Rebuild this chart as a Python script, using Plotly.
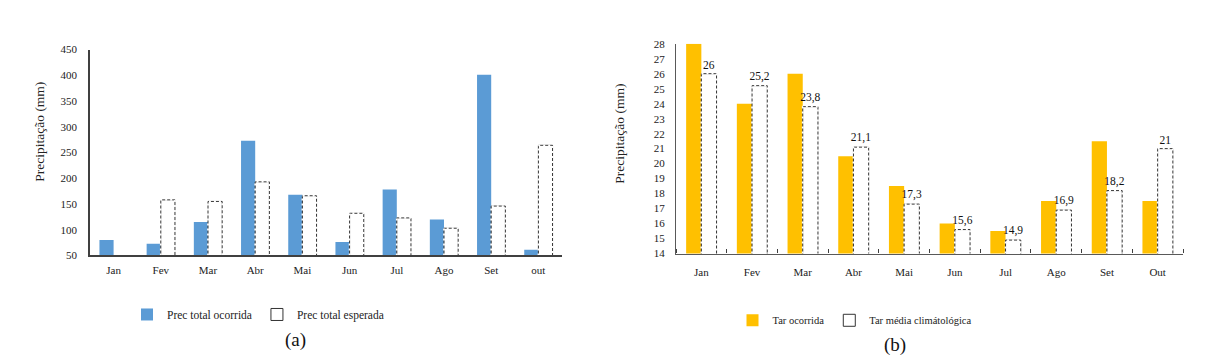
import plotly.graph_objects as go

# ---------------- data ----------------
meses_a = ["Jan", "Fev", "Mar", "Abr", "Mai", "Jun", "Jul", "Ago", "Set", "out"]
prec_ocorrida = [80, 73, 115, 273, 168, 76, 178, 120, 401, 61]
prec_esperada = [None, 158, 155, 193, 166, 132, 123, 103, 146, 264]
ticks_a = [50, 100, 150, 200, 250, 300, 350, 400, 450]

meses_b = ["Jan", "Fev", "Mar", "Abr", "Mai", "Jun", "Jul", "Ago", "Set", "Out"]
tar_ocorrida = [28, 24, 26, 20.5, 18.5, 16, 15.5, 17.5, 21.5, 17.5]
tar_media = [26, 25.2, 23.8, 21.1, 17.3, 15.6, 14.9, 16.9, 18.2, 21]
ticks_b = list(range(14, 29))

FONT = "Liberation Serif, Times New Roman, serif"
BLUE = "#5B9BD5"
ORANGE = "#FFC000"
DARK = "#333333"
W = 0.30


def outline(values, base):
    xs, ys = [], []
    for i, v in enumerate(values):
        if v is None:
            continue
        xs += [i, i, i + W, i + W, None]
        ys += [base, v, v, base, None]
    return xs, ys


fig = go.Figure()

# ----- chart (a) -----
idx_a = list(range(len(meses_a)))
fig.add_trace(go.Bar(x=idx_a, y=prec_ocorrida, offset=-W, width=W,
                     marker=dict(color=BLUE, line=dict(width=0)),
                     name="Prec total ocorrida", xaxis="x", yaxis="y",
                     legend="legend"))
fig.add_trace(go.Bar(x=idx_a, y=prec_esperada, offset=0, width=W,
                     marker=dict(color="white", line=dict(color=DARK, width=1)),
                     name="Prec total esperada", xaxis="x", yaxis="y",
                     legend="legend"))
xs, ys = outline(prec_esperada, ticks_a[0])
fig.add_trace(go.Scatter(x=xs, y=ys, mode="lines", xaxis="x", yaxis="y",
                         line=dict(color="white", width=1.8, dash="2px,3px"),
                         showlegend=False, hoverinfo="skip"))

# ----- chart (b) -----
idx_b = list(range(len(meses_b)))
fig.add_trace(go.Bar(x=idx_b, y=tar_ocorrida, offset=-W, width=W,
                     marker=dict(color=ORANGE, line=dict(width=0)),
                     name="Tar ocorrida", xaxis="x2", yaxis="y2",
                     legend="legend2"))
fig.add_trace(go.Bar(x=idx_b, y=tar_media, offset=0, width=W,
                     marker=dict(color="white", line=dict(color=DARK, width=1)),
                     text=[f"{v:g}".replace(".", ",") for v in tar_media],
                     textposition="outside", cliponaxis=False,
                     constraintext="none",
                     textfont=dict(family=FONT, size=11.5, color="#111111"),
                     name="Tar média climátológica", xaxis="x2", yaxis="y2",
                     legend="legend2"))
xs, ys = outline(tar_media, ticks_b[0])
fig.add_trace(go.Scatter(x=xs, y=ys, mode="lines", xaxis="x2", yaxis="y2",
                         line=dict(color="white", width=1.8, dash="2px,3px"),
                         showlegend=False, hoverinfo="skip"))

H = 364.0
Wd = 1212.0

fig.update_layout(
    width=1212, height=364,
    margin=dict(l=0, r=0, t=0, b=0),
    paper_bgcolor="white", plot_bgcolor="white",
    barmode="overlay",
    font=dict(family=FONT, color="#222222", size=11),
    xaxis=dict(domain=[90 / Wd, 562 / Wd], anchor="y", range=[-0.5, 9.5],
               tickmode="array", tickvals=idx_a, ticktext=meses_a,
               showline=True, linecolor="#404040", linewidth=1.5,
               ticks="", showgrid=False, zeroline=False,
               ticklabelstandoff=4, tickfont=dict(size=11)),
    yaxis=dict(domain=[1 - 258 / H, 1 - 45 / H], anchor="x", range=[50, 450],
               tickmode="array", tickvals=ticks_a,
               showline=True, linecolor="#404040", linewidth=1.5,
               ticks="", showgrid=False, zeroline=False,
               ticklabelstandoff=9, tickfont=dict(size=11)),
    xaxis2=dict(domain=[676 / Wd, 1183 / Wd], anchor="y2", range=[-0.5, 9.5],
                tickmode="array", tickvals=idx_b, ticktext=meses_b,
                showline=True, linecolor="#595959", linewidth=1.2,
                ticks="", showgrid=False, zeroline=False,
                minor=dict(ticks="inside", tick0=-0.5, dtick=1, ticklen=4,
                           tickcolor="#404040", tickwidth=1, showgrid=False),
                ticklabelstandoff=8, tickfont=dict(size=11)),
    yaxis2=dict(domain=[1 - 256 / H, 1 - 39 / H], anchor="x2", range=[14, 28],
                tickmode="array", tickvals=ticks_b,
                showline=True, linecolor="#595959", linewidth=1.2,
                ticks="", showgrid=False, zeroline=False,
                ticklabelstandoff=8, tickfont=dict(size=11)),
    legend=dict(orientation="h", x=258 / Wd, y=1 - 319 / H,
                xanchor="center", yanchor="middle",
                font=dict(family=FONT, size=11.5), bgcolor="rgba(0,0,0,0)"),
    legend2=dict(orientation="h", x=855 / Wd, y=1 - 325 / H,
                 xanchor="center", yanchor="middle",
                 font=dict(family=FONT, size=10.5), bgcolor="rgba(0,0,0,0)"),
    annotations=[
        dict(text="Precipitação (mm)", x=40 / Wd, y=1 - 130 / H,
             xref="paper", yref="paper", textangle=-90, showarrow=False,
             xanchor="center", yanchor="middle",
             font=dict(family=FONT, size=13.5, color="#222222")),
        dict(text="Precipitação (mm)", x=620 / Wd, y=1 - 132 / H,
             xref="paper", yref="paper", textangle=-90, showarrow=False,
             xanchor="center", yanchor="middle",
             font=dict(family=FONT, size=13.5, color="#222222")),
        dict(text="(a)", x=295 / Wd, y=1 - 345 / H,
             xref="paper", yref="paper", showarrow=False,
             xanchor="center", yanchor="middle",
             font=dict(family=FONT, size=19, color="#111111")),
        dict(text="(b)", x=895 / Wd, y=1 - 351 / H,
             xref="paper", yref="paper", showarrow=False,
             xanchor="center", yanchor="middle",
             font=dict(family=FONT, size=19, color="#111111")),
    ],
)

fig.write_html("out.html",
               config={"displayModeBar": False},
               post_script="document.body.style.margin='0';")
